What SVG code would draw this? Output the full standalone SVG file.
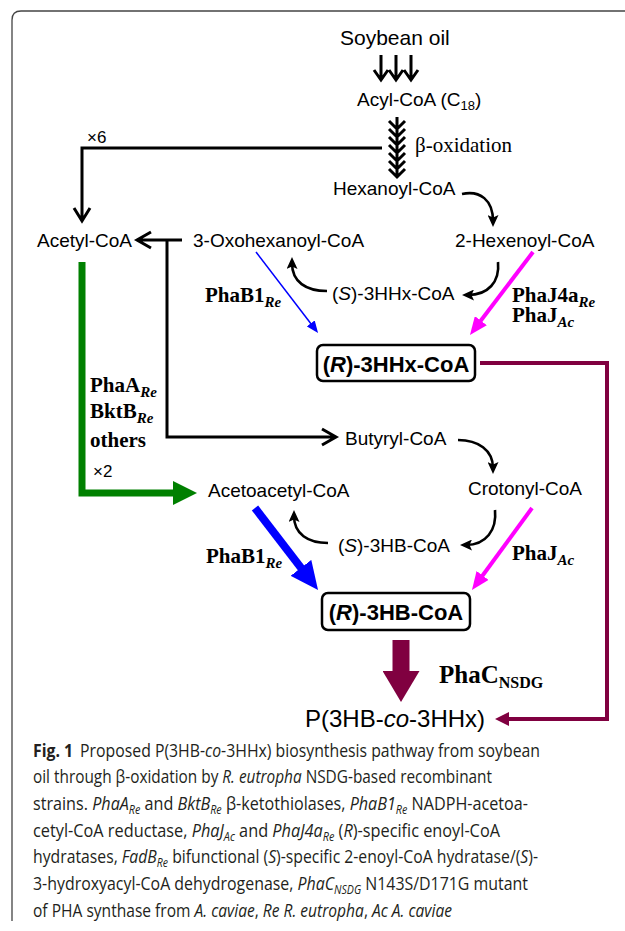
<svg xmlns="http://www.w3.org/2000/svg" width="625" height="931" viewBox="0 0 625 931">
<style>
.lbl{font-family:"Liberation Sans",Arial,sans-serif;font-size:19px;fill:#000}
.big{font-family:"Liberation Sans",Arial,sans-serif;font-size:22px;font-weight:bold;fill:#000}
.enz{font-family:"Liberation Serif","Times New Roman",serif;font-size:21px;font-weight:bold;fill:#000}
.sub{font-size:15px;font-style:italic}
.cap{font-family:"Open Sans","Noto Sans",sans-serif;font-size:18px;fill:#231f20}
.csub{font-size:12px}
.it{font-style:italic}
.blk{fill:none;stroke:#000;stroke-width:2.6}
.chev{fill:none;stroke:#000;stroke-width:3}
.box{fill:#fff;stroke:#000;stroke-width:2.5}
</style>
<defs>
<marker id="hk" viewBox="0 0 12 11" refX="6" refY="5.5" markerWidth="12" markerHeight="11" markerUnits="userSpaceOnUse" orient="auto"><path d="M0,0 L12,5.5 L0,11 L2.5,5.5 z" fill="#000"/></marker>
<marker id="hm" viewBox="0 0 18 15" refX="9" refY="7.5" markerWidth="18" markerHeight="15" markerUnits="userSpaceOnUse" orient="auto"><path d="M0,0 L18,7.5 L0,15 z" fill="#ff00ff"/></marker>
<marker id="hb" viewBox="0 0 12 10" refX="6" refY="5" markerWidth="12" markerHeight="10" markerUnits="userSpaceOnUse" orient="auto"><path d="M0,0 L12,5 L0,10 z" fill="#0000ff"/></marker>
<marker id="hB" viewBox="0 0 28 26" refX="14" refY="13" markerWidth="28" markerHeight="26" markerUnits="userSpaceOnUse" orient="auto"><path d="M0,0 L28,13 L0,26 z" fill="#0000ff"/></marker>
<marker id="hg" viewBox="0 0 24 24" refX="12" refY="12" markerWidth="24" markerHeight="24" markerUnits="userSpaceOnUse" orient="auto"><path d="M0,0 L24,12 L0,24 z" fill="#008000"/></marker>
<marker id="hr" viewBox="0 0 14 14" refX="7" refY="7" markerWidth="14" markerHeight="14" markerUnits="userSpaceOnUse" orient="auto"><path d="M0,0 L14,7 L0,14 z" fill="#800040"/></marker>
<marker id="hR" viewBox="0 0 31 37" refX="15.5" refY="18.5" markerWidth="31" markerHeight="37" markerUnits="userSpaceOnUse" orient="auto"><path d="M0,0 L31,18.5 L0,37 z" fill="#800040"/></marker>
</defs>

<path d="M12,921 L12,20 Q12,11 21,11 L625,11" fill="none" stroke="#444" stroke-width="1.3"/>

<g id="connectors">
  <!-- soybean oil to acyl-CoA -->
  <path class="chev" d="M381,55 V79 M374,70 L381,80 L388,70 M396,55 V79 M389,70 L396,80 L403,70 M411,55 V79 M404,70 L411,80 L418,70"/>
  <!-- beta oxidation stack -->
  <path class="chev" d="M397,117 V177 M389,121 L397,129 L405,121 M389,129 L397,137 L405,129 M389,137 L397,145 L405,137 M389,145 L397,153 L405,145 M389,153 L397,161 L405,153 M389,161 L397,169 L405,161 M389,169 L397,177 L405,169"/>
  <!-- x6 to acetyl-CoA -->
  <path class="chev" d="M382,148 H82 V220 M74,208 L82,221 L90,208"/>
  <!-- 3-oxohexanoyl to acetyl-CoA and butyryl branch -->
  <path class="chev" d="M182,240 H138 M151,232 L137,240 L151,248"/>
  <path class="chev" d="M167,240 V437 H335 M322,429 L336,437 L322,445"/>
  <!-- curved arrows -->
  <path class="blk" d="M462,194 C480,190 493,200 493,221" marker-end="url(#hk)"/>
  <path class="blk" d="M498,262 C500,282 488,295 468,295" marker-end="url(#hk)"/>
  <path class="blk" d="M327,291 C306,291 292,282 292,263" marker-end="url(#hk)"/>
  <path class="blk" d="M458,440 C478,440 493,450 493,468" marker-end="url(#hk)"/>
  <path class="blk" d="M495,510 C497,530 486,545 466,545" marker-end="url(#hk)"/>
  <path class="blk" d="M328,543 C308,543 294,534 294,516" marker-end="url(#hk)"/>
  <!-- enzyme arrows -->
  <path d="M256,252 L314.4,328.2" stroke="#0000ff" stroke-width="1.5" fill="none" marker-end="url(#hb)"/>
  <path d="M533,252 L475.4,327.8" stroke="#ff00ff" stroke-width="4" fill="none" marker-end="url(#hm)"/>
  <path d="M532,508 L477.3,582.7" stroke="#ff00ff" stroke-width="4" fill="none" marker-end="url(#hm)"/>
  <path d="M255,508 L309.5,578.9" stroke="#0000ff" stroke-width="8" fill="none" marker-end="url(#hB)"/>
  <path d="M82,262 V493 H185" stroke="#008000" stroke-width="7" fill="none" stroke-linejoin="miter" marker-end="url(#hg)"/>
  <path d="M480,363 H607 V719 H502" stroke="#800040" stroke-width="4" fill="none" stroke-linejoin="miter" marker-end="url(#hr)"/>
  <path d="M401,640 V686.5" stroke="#800040" stroke-width="17" fill="none" marker-end="url(#hR)"/>
</g>

<g id="soybean"><text class="lbl" x="340" y="45" style="font-size:21px">Soybean oil</text></g>
<g id="acyl"><text class="lbl" x="357" y="106">Acyl-CoA (C<tspan font-size="13" dy="4">18</tspan><tspan dy="-4">)</tspan></text></g>
<g id="betaox"><text class="enz" x="415" y="152" style="font-weight:normal">β-oxidation</text></g>
<g id="hexanoyl"><text class="lbl" x="333" y="195">Hexanoyl-CoA</text></g>
<g id="x6"><text class="lbl" x="87" y="143" style="font-size:17px">×6</text></g>
<g id="acetyl"><text class="lbl" x="37" y="247">Acetyl-CoA</text></g>
<g id="oxohex"><text class="lbl" x="193" y="247">3-Oxohexanoyl-CoA</text></g>
<g id="hexenoyl"><text class="lbl" x="455" y="247">2-Hexenoyl-CoA</text></g>
<g id="s3hhx"><text class="lbl" x="332" y="300">(<tspan class="it">S</tspan>)-3HHx-CoA</text></g>
<g id="phab1a"><text class="enz" x="205" y="302">PhaB1<tspan class="sub" dy="5">Re</tspan></text></g>
<g id="phaj4a"><text class="enz" x="512" y="302">PhaJ4a<tspan class="sub" dy="5">Re</tspan></text><text class="enz" x="512" y="322">PhaJ<tspan class="sub" dy="5">Ac</tspan></text></g>
<g id="r3hhx"><rect class="box" x="317" y="345" width="158" height="36" rx="6"/><text class="big" x="396" y="372" text-anchor="middle">(<tspan class="it">R</tspan>)-3HHx-CoA</text></g>
<g id="phaa"><text class="enz" x="90" y="392">PhaA<tspan class="sub" dy="5">Re</tspan></text><text class="enz" x="90" y="418">BktB<tspan class="sub" dy="5">Re</tspan></text><text class="enz" x="90" y="447">others</text></g>
<g id="x2"><text class="lbl" x="93" y="477" style="font-size:17px">×2</text></g>
<g id="butyryl"><text class="lbl" x="345" y="445">Butyryl-CoA</text></g>
<g id="acetoacetyl"><text class="lbl" x="208" y="497">Acetoacetyl-CoA</text></g>
<g id="crotonyl"><text class="lbl" x="468" y="495">Crotonyl-CoA</text></g>
<g id="s3hb"><text class="lbl" x="338" y="552">(<tspan class="it">S</tspan>)-3HB-CoA</text></g>
<g id="phab1b"><text class="enz" x="206" y="563">PhaB1<tspan class="sub" dy="5">Re</tspan></text></g>
<g id="phajac"><text class="enz" x="512" y="560">PhaJ<tspan class="sub" dy="5">Ac</tspan></text></g>
<g id="r3hb"><rect class="box" x="322" y="593" width="148" height="37" rx="6"/><text class="big" x="396" y="620" text-anchor="middle">(<tspan class="it">R</tspan>)-3HB-CoA</text></g>
<g id="phac"><text class="enz" x="439" y="683" style="font-size:25px">PhaC<tspan font-size="16" dy="5">NSDG</tspan></text></g>
<g id="product"><text class="lbl" x="305" y="727" style="font-size:24px">P(3HB-<tspan class="it">co</tspan>-3HHx)</text></g>

<g id="caption">
<text class="cap" x="33" y="757" textLength="507" lengthAdjust="spacingAndGlyphs"><tspan font-weight="bold">Fig. 1</tspan><tspan dx="8">Proposed P(3HB-</tspan><tspan class="it">co</tspan>-3HHx) biosynthesis pathway from soybean</text>
<text class="cap" x="33" y="783" textLength="459" lengthAdjust="spacingAndGlyphs">oil through β-oxidation by <tspan class="it">R. eutropha</tspan> NSDG-based recombinant</text>
<text class="cap" x="33" y="810" textLength="495" lengthAdjust="spacingAndGlyphs">strains. <tspan class="it">PhaA</tspan><tspan class="it csub" dy="4">Re</tspan><tspan dy="-4"> and </tspan><tspan class="it">BktB</tspan><tspan class="it csub" dy="4">Re</tspan><tspan dy="-4"> β-ketothiolases, </tspan><tspan class="it">PhaB1</tspan><tspan class="it csub" dy="4">Re</tspan><tspan dy="-4"> NADPH-acetoa-</tspan></text>
<text class="cap" x="33" y="837" textLength="467" lengthAdjust="spacingAndGlyphs">cetyl-CoA reductase, <tspan class="it">PhaJ</tspan><tspan class="it csub" dy="4">Ac</tspan><tspan dy="-4"> and </tspan><tspan class="it">PhaJ4a</tspan><tspan class="it csub" dy="4">Re</tspan><tspan dy="-4"> (</tspan><tspan class="it">R</tspan>)-specific enoyl-CoA</text>
<text class="cap" x="33" y="863" textLength="505" lengthAdjust="spacingAndGlyphs">hydratases, <tspan class="it">FadB</tspan><tspan class="it csub" dy="4">Re</tspan><tspan dy="-4"> bifunctional (</tspan><tspan class="it">S</tspan>)-specific 2-enoyl-CoA hydratase/(<tspan class="it">S</tspan>)-</text>
<text class="cap" x="33" y="890" textLength="495" lengthAdjust="spacingAndGlyphs">3-hydroxyacyl-CoA dehydrogenase, <tspan class="it">PhaC</tspan><tspan class="it csub" dy="4">NSDG</tspan><tspan dy="-4"> N143S/D171G mutant</tspan></text>
<text class="cap" x="33" y="917" textLength="419" lengthAdjust="spacingAndGlyphs">of PHA synthase from <tspan class="it">A. caviae</tspan>, <tspan class="it">Re R. eutropha</tspan>, <tspan class="it">Ac A. caviae</tspan></text>
</g>
</svg>
